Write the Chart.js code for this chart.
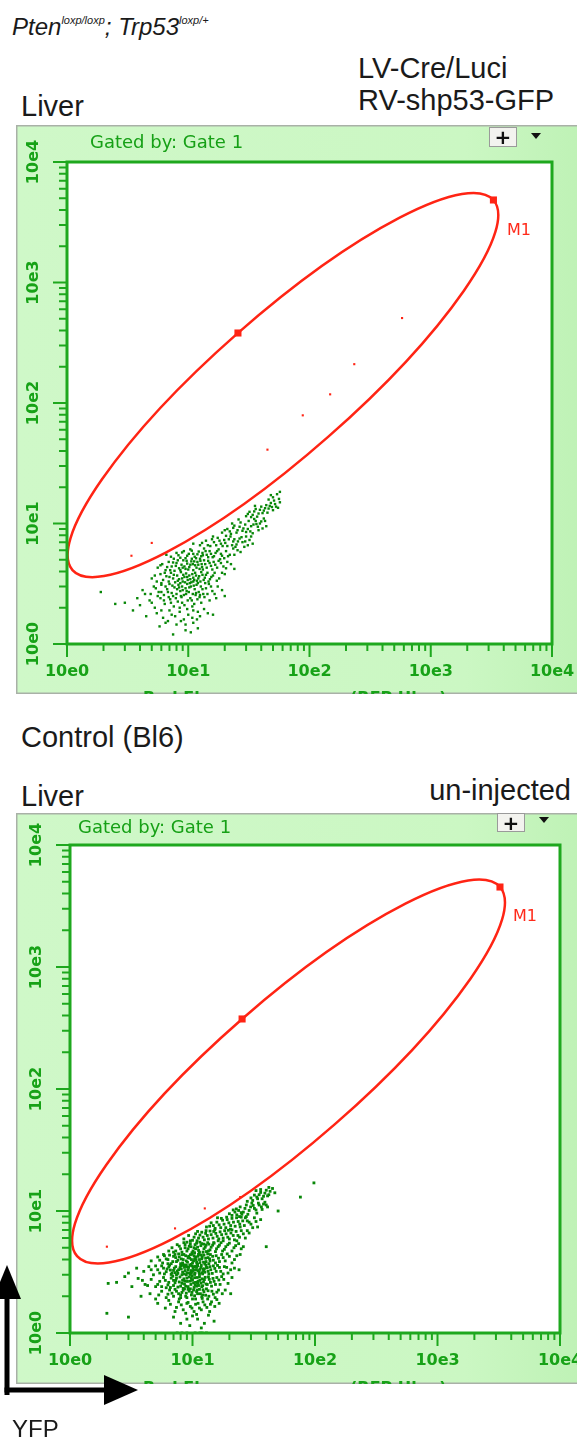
<!DOCTYPE html>
<html>
<head>
<meta charset="utf-8">
<script src="https://cdn.jsdelivr.net/npm/chart.js@4.4.1/dist/chart.umd.min.js"></script>
<style>
  body { margin: 0; width: 577px; height: 1441px; position: relative; overflow: hidden; background: #fff; }
  .txt { position: absolute; color: #1a1a1a; font-family: "Liberation Sans", Arial, sans-serif; font-size: 29px; line-height: 1; white-space: nowrap; }
  .gated { position: absolute; color: #16a016; font-family: "DejaVu Sans", sans-serif; font-size: 18px; line-height: 1; white-space: nowrap; }
  .gate-name { position: absolute; color: #ff2a1a; font-family: "DejaVu Sans", sans-serif; font-size: 16px; line-height: 1; }
  .plus { position: absolute; width: 28px; height: 20px; background: #f3f3ef; border: 1px solid #9a9a9a; box-sizing: border-box;
          font: bold 20px "DejaVu Sans", sans-serif; line-height: 18px; text-align: center; color: #111; overflow: hidden; }
  .drop { position: absolute; width: 0; height: 0; border-left: 5px solid transparent; border-right: 5px solid transparent; border-top: 6px solid #111; }
  canvas { position: absolute; }
  sup { font-size: 11px; vertical-align: 11px; line-height: 0; }
</style>
</head>
<body>

<div class="txt" style="left:12px; top:15px; font-size:24px; font-style:italic;">Pten<sup>loxp/loxp</sup>; Trp53<sup>loxp/+</sup></div>
<div class="txt" style="left:358px; top:54px;">LV-Cre/Luci</div>
<div class="txt" style="left:358px; top:86px;">RV-shp53-GFP</div>
<div class="txt" style="left:21px; top:92px;">Liver</div>

<canvas id="liverChart" width="561" height="569" style="left:16px; top:125px;"></canvas>
<div class="gated" style="left:90px; top:133px;">Gated by: Gate 1</div>
<div class="plus" style="left:489px; top:127px;">+</div>
<div class="drop" style="left:531px; top:133px;"></div>
<div class="gate-name" style="left:507px; top:222px;">M1</div>

<div class="txt" style="left:21px; top:723px;">Control (Bl6)</div>
<div class="txt" style="left:21px; top:782px;">Liver</div>
<div class="txt" style="right:6px; top:776px;">un-injected</div>

<canvas id="controlChart" width="561" height="571" style="left:16px; top:813px;"></canvas>
<div class="gated" style="left:78px; top:818px;">Gated by: Gate 1</div>
<div class="plus" style="left:497px; top:813px; height:19px;">+</div>
<div class="drop" style="left:539px; top:817px;"></div>
<div class="gate-name" style="left:513px; top:908px;">M1</div>

<svg style="position:absolute; left:0; top:1255px;" width="150" height="160">
  <rect x="4.5" y="38" width="5" height="102" fill="#000"/>
  <polygon points="7,10 -7,44 21,44" fill="#000"/>
  <rect x="4.5" y="132.5" width="104" height="5" fill="#000"/>
  <polygon points="138,135 104,120 104,150" fill="#000"/>
</svg>
<div class="txt" style="left:12px; top:1417px; font-size:24px;">YFP</div>

<script>
// axis ticks (both axes, both plots)
const tickValues = [1, 10, 100, 1000, 10000];
const tickLabels = ["10e0", "10e1", "10e2", "10e3", "10e4"];
const minorSteps = [2, 3, 4, 5, 6, 7, 8, 9];

// Pten/Trp53 liver: elliptical gate M1 (centre + major/minor handles), gated events, all events
const liverGateCenter = [60.4, 141];
const liverHandles = [[3288, 4840], [25.7, 381]];
const liverGatedEvents = [[580, 507], [234, 210], [148, 118], [88, 79], [45, 41], [5.0, 6.9], [3.4, 5.4]];
const liverEvents = [
    [7.5, 1.2], [9.5, 1.3], [8, 1.45], [12, 1.35], [6.5, 1.5], [10.5, 1.25], [11, 1.5], [5.8, 1.4],
    [4.5, 1.7], [5.5, 1.8], [6.2, 1.65], [7, 1.9], [7.8, 1.7], [8.5, 1.85], [9.2, 1.6], [10, 1.75],
    [11, 1.9], [12.5, 1.7], [13.5, 1.95], [6.8, 1.55], [9.8, 1.95], [14.5, 1.8], [3.5, 1.9], [16, 1.75], [11.8, 1.6],
    [9.5, 1.45], [8.7, 1.55], [10.8, 1.65], [7.3, 1.75], [12, 1.85], [6, 1.9], [1.9, 2.7], [2.5, 2.15],
    [3, 2.2], [4, 2.1], [4.8, 2.3], [5.3, 2.0], [5.9, 2.4], [6.4, 2.15], [7.1, 2.35], [7.6, 2.05],
    [8.2, 2.25], [8.8, 2.45], [9.3, 2.1], [9.9, 2.3], [10.4, 2.4], [11.2, 2.15], [11.9, 2.35], [12.8, 2.2],
    [13.6, 2.45], [15, 2.3], [17, 2.4], [6.9, 2.45], [8.5, 2.0], [10.8, 2.05], [5.6, 2.5], [20, 2.5],
    [5, 2.2], [4.4, 2.6], [3.8, 2.4], [6.3, 2.3], [7.2, 2.2], [7.9, 2.4], [8.9, 2.2], [10.7, 2.3],
    [4.2, 2.8], [4.9, 2.6], [5.2, 3.0], [5.7, 2.7], [6.0, 3.1], [6.3, 2.55], [6.7, 2.85], [7.0, 3.15],
    [7.3, 2.65], [7.7, 2.95], [8.0, 2.6], [8.3, 3.1], [8.6, 2.75], [8.9, 3.0], [9.2, 2.55], [9.5, 2.9],
    [9.8, 3.15], [10.1, 2.7], [10.5, 3.0], [10.9, 2.6], [11.3, 2.85], [11.7, 3.1], [12.2, 2.7], [12.7, 3.0],
    [13.3, 2.6], [14, 2.9], [14.8, 3.15], [15.8, 2.75], [17.5, 3.0], [19, 2.8], [6.5, 3.0], [7.5, 2.5],
    [9.0, 2.8], [10.3, 3.2], [11.5, 2.55], [8.1, 2.85], [6.8, 2.7], [8.4, 2.95], [9.6, 2.6], [10.2, 2.95],
    [11.6, 2.65], [12.4, 2.45], [13.1, 2.85], [14.4, 2.6], [15.4, 3.0], [16.5, 2.6], [5.4, 2.9], [6.0, 2.7],
    [7.4, 3.05], [8.7, 2.5], [9.7, 2.75], [11.1, 3.05], [12.5, 2.55], [13.8, 3.2],
    [5.0, 3.5], [5.5, 3.3], [5.9, 3.8], [6.2, 3.4], [6.6, 3.65], [6.9, 3.3], [7.2, 3.9], [7.5, 3.5],
    [7.8, 3.25], [8.1, 3.7], [8.4, 3.45], [8.7, 3.95], [9.0, 3.3], [9.3, 3.6], [9.6, 3.85], [9.9, 3.4],
    [10.2, 3.7], [10.6, 3.25], [11.0, 3.55], [11.4, 3.9], [11.8, 3.35], [12.3, 3.65], [12.8, 3.95], [13.4, 3.4],
    [14.0, 3.75], [14.7, 3.3], [15.5, 3.6], [16.5, 3.9], [18, 3.5], [20, 3.8], [7.0, 3.6], [8.9, 3.5],
    [10.8, 3.8], [12.0, 3.2], [9.4, 3.25], [11.2, 3.4], [5.3, 3.7], [6.0, 3.2], [6.4, 3.9], [7.6, 3.75],
    [8.2, 3.35], [8.6, 3.2], [9.1, 3.75], [9.8, 3.6], [10.4, 3.45], [11.0, 3.3], [11.6, 3.7], [12.1, 3.5],
    [12.6, 3.3], [13.1, 3.75], [13.7, 3.55], [14.4, 3.9], [15.1, 3.45], [16.0, 3.7], [17.2, 3.35], [19, 3.9],
    [5.6, 4.3], [6.1, 4.6], [6.5, 4.1], [6.9, 4.8], [7.3, 4.4], [7.7, 4.05], [8.0, 4.7], [8.4, 4.25],
    [8.8, 4.55], [9.1, 4.95], [9.5, 4.2], [9.8, 4.65], [10.2, 4.35], [10.6, 4.85], [11.0, 4.1], [11.4, 4.5],
    [11.9, 4.8], [12.4, 4.2], [12.9, 4.6], [13.5, 4.95], [14.2, 4.3], [15.0, 4.7], [15.8, 4.15], [16.7, 4.55],
    [17.8, 4.9], [19.5, 4.4], [21, 4.8], [9.3, 4.4], [10.9, 4.6], [13.0, 4.35], [7.9, 4.45], [24, 4.2],
    [5.9, 4.5], [6.7, 4.35], [7.1, 4.1], [7.5, 4.75], [8.2, 4.95], [8.6, 4.1], [9.0, 4.3], [9.7, 4.9],
    [10.0, 4.15], [10.4, 4.55], [11.2, 4.85], [11.7, 4.3], [12.1, 4.55], [12.6, 4.9], [13.2, 4.15], [13.8, 4.6],
    [14.6, 4.9], [15.4, 4.45], [16.2, 4.8], [17.3, 4.3], [18.6, 4.7], [20.5, 4.25], [22.5, 4.6],
    [7.2, 5.3], [8.0, 5.7], [8.6, 5.2], [9.2, 5.9], [9.8, 5.4], [10.4, 6.1], [11.0, 5.6], [11.6, 5.15],
    [12.2, 5.85], [12.8, 5.35], [13.5, 6.2], [14.2, 5.5], [15.0, 5.9], [15.9, 5.25], [16.8, 5.7], [17.8, 6.1],
    [19, 5.4], [20.5, 5.9], [22, 5.5], [23.5, 6.2], [10.7, 5.1], [13.1, 5.7], [18.3, 5.05], [27, 5.8], [6.6, 5.5],
    [7.6, 5.1], [8.3, 5.45], [8.9, 5.75], [9.5, 5.15], [10.1, 5.6], [10.7, 5.95], [11.3, 5.3], [11.9, 5.55],
    [12.5, 5.1], [13.2, 5.45], [13.9, 5.9], [14.6, 5.25], [15.4, 5.6], [16.3, 5.35], [17.3, 5.9], [18.6, 5.6],
    [19.8, 5.15], [21.3, 5.35], [24, 5.5], [25.5, 6.0],
    [12.5, 6.6], [14, 7.2], [15.2, 6.5], [16.3, 7.0], [17.5, 7.6], [18.6, 6.8], [19.8, 7.3], [21, 6.5],
    [22.3, 7.8], [23.5, 7.1], [25, 6.7], [26.5, 7.5], [28, 7.0], [30, 7.8], [32, 7.3], [20.5, 7.9],
    [16, 7.8], [24.5, 6.4], [34, 6.8], [11, 6.8], [29, 6.4], [13, 6.9], [14.5, 6.6], [15.7, 7.4],
    [17, 6.6], [18.1, 7.2], [19.2, 6.5], [20.2, 6.9], [21.6, 7.4], [23, 6.6], [24, 7.4], [25.7, 7.1],
    [27.5, 7.7], [29.5, 7.1], [31, 6.6], [33, 7.8],
    [19, 8.4], [21, 9.0], [22.5, 8.2], [24, 9.6], [25.5, 8.8], [27, 10.2], [28.5, 9.1], [30, 8.5],
    [31.5, 10.5], [33, 9.5], [35, 10.9], [36.5, 9.9], [38, 8.8], [40, 10.4], [42, 11], [26, 10.8],
    [23, 10], [44, 9.5], [34, 8.3], [20, 8.8], [22, 8.6], [23.5, 9.2], [25, 8.4], [26.5, 9.4],
    [28, 8.7], [29.5, 9.8], [31, 9.0], [32.5, 8.6], [34.5, 9.8], [36, 10.5], [37.5, 9.4], [39, 10],
    [41, 9.1], [43, 10.5],
    [30, 11.5], [32, 12.5], [34, 11.8], [36, 13.2], [38, 12.1], [40, 13.8], [42, 12.8], [44, 14.2],
    [46, 13.3], [48, 14.8], [50, 12.9], [52, 14.5], [55, 13.5], [57, 15], [35.5, 14], [31, 12],
    [33, 11.3], [35, 12.6], [37, 11.4], [39, 13], [41, 12.2], [43, 13.4], [45, 12.3], [47, 14],
    [49, 13.7], [51, 15.5], [53, 13.8],
    [46, 15.8], [50, 16.5], [54, 17.5], [56, 16], [57, 18.3], [48, 17.2]
];

// Bl6 control liver (un-injected)
const controlGateCenter = [60.8, 139];
const controlHandles = [[3236, 4525], [25.4, 375]];
const controlGatedEvents = [[2.0, 5.1], [7.2, 7.2], [12.6, 10.5], [24.5, 13]];
const controlEvents = [
    [7.5, 1], [9, 1], [10.5, 1], [11.5, 1], [13, 1], [8.2, 1], [12, 1],
    [8, 1.2], [9.5, 1.15], [11, 1.3], [12.5, 1.2], [15, 1.25], [10, 1.38], [7, 1.35], [13.5, 1.4],
    [2.0, 1.45], [3.0, 1.35], [9, 1.3], [11.8, 1.1],
    [6, 1.6], [7.2, 1.5], [8.1, 1.7], [8.8, 1.45], [9.6, 1.65], [10.3, 1.5], [11.1, 1.75], [11.8, 1.55],
    [12.6, 1.7], [13.8, 1.5], [15.2, 1.65], [16.5, 1.75], [5.2, 1.75], [7.7, 1.8], [10.8, 1.42], [9.2, 1.78],
    [6.6, 1.72], [14.3, 1.8], [7.4, 1.62], [8.4, 1.55], [9.0, 1.75], [9.9, 1.6], [10.6, 1.72], [11.4, 1.6],
    [12.2, 1.8], [13.1, 1.62], [14.0, 1.72], [8.0, 1.95], [10.0, 1.9], [12.0, 1.92], [6.4, 1.85], [13.3, 1.9], [15.8, 1.88],
    [4.5, 2.1], [5, 1.9], [5.6, 2.2], [6.1, 1.95], [6.5, 2.25], [7, 2.0], [7.4, 2.2], [7.8, 1.9],
    [8.2, 2.15], [8.6, 2.3], [9, 1.95], [9.4, 2.2], [9.8, 2.05], [10.2, 2.25], [10.6, 1.9], [11, 2.1],
    [11.4, 2.28], [11.9, 1.98], [12.4, 2.18], [13, 2.3], [13.6, 2.0], [14.4, 2.2], [15.3, 1.95], [16.3, 2.25],
    [17.5, 2.1], [20.5, 2.1], [3.8, 2.0], [8.0, 2.05], [9.6, 2.3], [10.9, 2.25], [12.1, 2.05], [6.8, 2.12], [8.9, 2.12],
    [6.3, 2.08], [7.2, 2.28], [7.7, 2.1], [8.4, 2.24], [8.8, 2.0], [9.2, 2.28], [9.9, 2.15], [10.4, 2.02],
    [10.8, 2.18], [11.6, 2.1], [12.2, 2.26], [12.8, 2.04], [13.4, 2.22], [14.8, 2.08], [15.8, 2.16], [5.3, 2.05], [18.5, 2.25],
    [2.4, 2.6], [2.05, 2.55], [3.2, 2.4], [3.6, 2.8], [4.1, 2.5], [4.6, 2.75], [5.0, 2.4], [5.4, 2.65],
    [5.8, 2.85], [6.1, 2.35], [6.4, 2.6], [6.7, 2.82], [7.0, 2.45], [7.3, 2.7], [7.6, 2.38], [7.9, 2.88],
    [8.2, 2.55], [8.5, 2.78], [8.8, 2.42], [9.1, 2.65], [9.4, 2.88], [9.7, 2.5], [10.0, 2.72], [10.3, 2.36],
    [10.6, 2.6], [10.9, 2.85], [11.2, 2.45], [11.5, 2.7], [11.9, 2.4], [12.3, 2.62], [12.7, 2.86], [13.2, 2.5],
    [13.7, 2.75], [14.3, 2.42], [15, 2.65], [15.8, 2.85], [16.8, 2.5], [18, 2.75], [19.5, 2.55], [21, 2.85],
    [20.5, 3.3], [8.4, 2.32], [9.9, 2.95], [11.0, 2.55], [12.0, 2.78], [7.2, 2.58], [8.7, 2.66], [10.5, 2.48], [6.9, 2.92],
    [5.2, 2.5], [5.6, 2.4], [6.0, 2.7], [6.3, 2.48], [6.6, 2.36], [7.0, 2.7], [7.4, 2.82], [7.8, 2.62],
    [8.0, 2.42], [8.3, 2.7], [8.6, 2.52], [9.0, 2.82], [9.2, 2.4], [9.6, 2.66], [9.8, 2.8], [10.2, 2.58],
    [10.4, 2.84], [10.8, 2.42], [11.1, 2.66], [11.4, 2.88], [11.7, 2.56], [12.1, 2.44], [12.5, 2.74], [12.9, 2.52],
    [13.5, 2.88], [14.0, 2.6], [14.7, 2.8], [15.4, 2.5], [16.4, 2.72], [17.3, 2.9], [4.3, 2.45], [3.9, 2.7], [2.8, 2.9],
    [3.0, 3.1], [3.5, 3.4], [4.0, 3.2], [4.4, 3.5], [4.8, 3.0], [5.2, 3.3], [5.6, 3.55], [5.9, 3.05],
    [6.2, 3.35], [6.5, 3.6], [6.8, 3.1], [7.1, 3.4], [7.4, 3.0], [7.7, 3.3], [8.0, 3.55], [8.3, 3.15],
    [8.6, 3.45], [8.9, 3.0], [9.2, 3.3], [9.5, 3.58], [9.8, 3.12], [10.1, 3.42], [10.4, 3.02], [10.7, 3.3],
    [11.0, 3.55], [11.3, 3.15], [11.7, 3.45], [12.1, 3.05], [12.5, 3.35], [12.9, 3.6], [13.4, 3.2], [13.9, 3.5],
    [14.5, 3.08], [15.2, 3.38], [16, 3.58], [17, 3.2], [18.2, 3.5], [19.5, 3.1], [22, 3.4], [8.1, 3.35],
    [9.0, 3.48], [9.7, 3.25], [10.6, 3.52], [11.5, 3.32], [7.5, 3.22], [12.3, 3.22], [13.2, 3.42], [6.6, 3.28],
    [8.5, 3.05], [10.0, 3.2], [4.6, 3.3], [5.0, 3.55], [5.4, 3.1], [5.8, 3.4], [6.1, 3.18], [6.4, 3.48],
    [6.7, 3.02], [7.0, 3.26], [7.3, 3.5], [7.6, 3.08], [7.9, 3.42], [8.2, 3.0], [8.4, 3.58], [8.7, 3.25],
    [9.0, 3.12], [9.3, 3.45], [9.6, 3.02], [9.9, 3.55], [10.2, 3.28], [10.5, 3.1], [10.8, 3.45], [11.1, 3.25],
    [11.4, 3.02], [11.8, 3.58], [12.2, 3.35], [12.6, 3.15], [13.0, 3.45], [13.6, 3.05], [14.1, 3.3], [14.8, 3.55],
    [15.6, 3.2], [16.6, 3.45], [17.8, 3.05], [19, 3.45], [24, 3.3], [7.2, 3.12], [8.9, 3.58], [10.3, 3.5],
    [11.9, 3.12], [9.4, 3.1],
    [4.6, 3.9], [5.2, 4.2], [5.7, 3.75], [6.1, 4.05], [6.5, 4.35], [6.9, 3.85], [7.3, 4.15], [7.7, 4.45],
    [8.0, 3.7], [8.4, 4.0], [8.8, 4.3], [9.1, 3.8], [9.5, 4.1], [9.9, 4.42], [10.2, 3.9], [10.6, 4.2],
    [11.0, 3.65], [11.4, 4.0], [11.8, 4.35], [12.3, 3.8], [12.8, 4.1], [13.3, 4.45], [13.9, 3.9], [14.6, 4.25],
    [15.4, 3.75], [16.3, 4.1], [17.3, 4.4], [18.5, 3.9], [20, 4.25], [22, 4.0], [24.5, 4.4], [9.3, 4.25],
    [10.8, 3.8], [12.0, 4.18], [8.6, 3.62], [7.6, 3.95], [11.2, 4.4], [13.6, 3.7], [6.3, 3.7], [9.7, 3.65],
    [10.4, 4.05], [8.2, 4.38], [5.4, 3.95], [5.9, 4.3], [6.3, 4.0], [6.7, 3.7], [7.0, 4.25], [7.4, 3.85],
    [7.8, 4.2], [8.1, 4.05], [8.5, 4.4], [8.9, 3.9], [9.2, 4.15], [9.6, 4.38], [10.0, 3.75], [10.3, 4.3],
    [10.7, 4.0], [11.1, 4.25], [11.5, 3.78], [11.9, 4.05], [12.4, 4.35], [12.9, 3.85], [13.4, 4.15], [14.0, 4.4],
    [14.8, 3.95], [15.6, 4.3], [16.6, 3.85], [17.8, 4.15], [19.2, 4.45], [21, 3.75], [23, 4.3], [8.3, 3.75],
    [9.8, 4.0], [11.3, 4.45], [12.6, 3.68], [13.8, 4.05], [7.2, 4.4], [10.9, 3.68],
    [5.8, 4.4], [6.4, 4.7], [7.0, 4.6], [7.5, 5.3], [8.0, 4.9], [8.5, 5.5], [9.0, 4.7], [9.4, 5.15],
    [9.9, 4.55], [10.3, 5.0], [10.8, 5.45], [11.2, 4.75], [11.7, 5.2], [12.2, 4.6], [12.7, 5.05], [13.3, 5.5],
    [13.9, 4.8], [14.6, 5.25], [15.4, 4.65], [16.2, 5.1], [17.1, 5.5], [18.2, 4.85], [19.4, 5.3], [21, 4.7],
    [22.5, 5.2], [25, 4.9], [9.6, 5.4], [11.5, 5.55], [13.0, 4.65], [15, 5.45], [40, 5.1], [8.7, 5.0],
    [10.6, 4.9], [12.4, 5.35], [6.8, 5.0], [7.3, 4.7], [7.8, 5.15], [8.2, 4.6], [8.7, 5.3], [9.2, 4.9],
    [9.7, 5.1], [10.1, 4.7], [10.5, 5.3], [11.0, 5.05], [11.4, 4.6], [11.9, 5.4], [12.4, 4.9], [12.9, 5.25],
    [13.5, 4.7], [14.2, 5.05], [14.9, 5.5], [15.7, 4.9], [16.6, 5.25], [17.6, 4.7], [18.7, 5.1], [20, 5.45],
    [21.8, 5.0], [23.8, 5.4], [26, 5.1], [9.0, 5.55], [10.4, 4.55], [13.6, 5.35],
    [8.5, 5.9], [9.3, 6.3], [10.0, 5.75], [10.6, 6.5], [11.2, 6.0], [11.9, 6.7], [12.5, 5.8], [13.2, 6.3],
    [13.9, 6.85], [14.7, 6.0], [15.5, 6.55], [16.4, 5.9], [17.3, 6.4], [18.3, 6.9], [19.4, 6.1], [20.6, 6.6],
    [22, 5.8], [23.5, 6.3], [25, 6.9], [27, 6.0], [29, 6.6], [12.9, 6.9], [15.2, 7.0], [21, 7.0],
    [11.0, 6.8], [17.8, 5.7], [9.6, 5.7], [10.3, 6.1], [10.9, 5.7], [11.5, 6.35], [12.2, 6.1], [12.8, 6.55],
    [13.5, 5.9], [14.2, 6.4], [14.9, 6.8], [15.9, 6.2], [16.8, 6.75], [17.8, 6.0], [18.8, 6.5], [20, 5.9],
    [21.5, 6.3], [22.7, 6.8], [24.2, 6.1], [26, 6.5], [28, 6.9], [19.6, 6.95], [16.2, 5.7], [23, 5.7],
    [13, 7.4], [14.2, 8.0], [15.3, 7.2], [16.5, 7.7], [17.6, 8.4], [18.7, 7.3], [19.8, 8.0], [21, 8.7],
    [22.3, 7.5], [23.6, 8.2], [25, 8.9], [26.5, 7.6], [28, 8.3], [30, 7.8], [32, 8.8], [34, 7.4],
    [16, 8.8], [20.4, 7.1], [24.3, 7.8], [19, 8.9], [27.5, 9], [36, 8.5], [14.8, 7.6], [15.8, 8.1],
    [17, 7.3], [18.1, 7.8], [19.2, 8.5], [20.5, 7.6], [21.6, 8.1], [22.9, 8.8], [24.5, 7.4], [25.7, 8.3],
    [27, 8.8], [29, 8.1], [31, 7.3], [33, 8.2], [17.2, 8.7], [13.8, 7.5],
    [20, 9.5], [21.5, 10.2], [23, 9.3], [24.5, 10.8], [26, 9.8], [27.5, 11.2], [29, 10.1], [30.5, 11.6],
    [32, 10.5], [33.5, 9.6], [35, 11.2], [37, 10.3], [39, 11.8], [41, 10.8], [28, 12], [25.3, 9.4],
    [22.8, 10.4], [50, 10], [21, 9.2], [22.2, 9.8], [23.8, 10.1], [25, 9.7], [26.8, 10.5], [28.3, 9.4],
    [29.8, 10.8], [31.3, 11.1], [33, 10.2], [34.5, 11.6], [36.5, 10.8], [38, 11.4], [40, 11.2], [24.2, 9.0],
    [30, 12.8], [32, 13.5], [34, 12.6], [36, 14.2], [38, 13.2], [40, 14.8], [42, 13.6], [45, 15.3],
    [47, 14.1], [33, 14.7], [76, 13], [98, 17], [31, 12.2], [33.5, 13], [35, 13.6], [37, 12.6],
    [39, 14], [41, 13.3], [43, 14.5], [36, 15], [42, 15.6]
];

const RED = "#ff2414";
const DOT_GREEN = "#088708";
const FRAME_GREEN = "#1ea81e";
const LABEL_GREEN = "#17a217";

const toXY = arr => arr.map(p => ({ x: p[0], y: p[1] }));

const flowFrame = {
    id: "flowFrame",
    beforeDraw(chart) {
        const { ctx, width, height, chartArea: a } = chart;
        ctx.save();
        const g = ctx.createLinearGradient(0, 0, width, 0);
        g.addColorStop(0, "#cff8c8");
        g.addColorStop(0.8, "#cbf7c3");
        g.addColorStop(1, "#bff2b6");
        ctx.fillStyle = g;
        ctx.fillRect(0, 0, width, height);
        ctx.strokeStyle = "#a9b1a7";
        ctx.lineWidth = 1.5;
        ctx.beginPath();
        ctx.moveTo(width, 0.75);
        ctx.lineTo(0.75, 0.75);
        ctx.lineTo(0.75, height - 0.75);
        ctx.lineTo(width, height - 0.75);
        ctx.stroke();
        ctx.fillStyle = "#fff";
        ctx.fillRect(a.left, a.top, a.right - a.left, a.bottom - a.top);
        ctx.restore();
    },
    afterDatasetsDraw(chart, args, opts) {
        const { ctx, chartArea: a, scales } = chart;
        const x = scales.x, y = scales.y;
        ctx.save();

        // elliptical gate: centre, end of major axis, end of minor axis
        const px = p => ({ x: x.getPixelForValue(p[0]), y: y.getPixelForValue(p[1]) });
        const c = px(opts.center), m = px(opts.handles[0]), n = px(opts.handles[1]);
        ctx.save();
        ctx.beginPath();
        ctx.rect(a.left, a.top, a.right - a.left, a.bottom - a.top);
        ctx.clip();
        ctx.beginPath();
        ctx.ellipse(c.x, c.y, Math.hypot(m.x - c.x, m.y - c.y), Math.hypot(n.x - c.x, n.y - c.y),
            Math.atan2(m.y - c.y, m.x - c.x), 0, 2 * Math.PI);
        ctx.strokeStyle = RED;
        ctx.lineWidth = 2.5;
        ctx.stroke();
        ctx.restore();

        ctx.strokeStyle = FRAME_GREEN;
        ctx.lineWidth = 3;
        ctx.strokeRect(a.left, a.top, a.right - a.left, a.bottom - a.top);

        ctx.lineWidth = 2;
        ctx.beginPath();
        tickValues.forEach((v, i) => {
            const tx = x.getPixelForValue(v), ty = y.getPixelForValue(v);
            ctx.moveTo(tx, a.bottom); ctx.lineTo(tx, a.bottom + 13);
            ctx.moveTo(a.left, ty); ctx.lineTo(a.left - 14, ty);
            if (i < tickValues.length - 1) {
                minorSteps.forEach(s => {
                    const mx = x.getPixelForValue(v * s), my = y.getPixelForValue(v * s);
                    ctx.moveTo(mx, a.bottom); ctx.lineTo(mx, a.bottom + 7);
                    ctx.moveTo(a.left, my); ctx.lineTo(a.left - 8, my);
                });
            }
        });
        ctx.stroke();

        ctx.fillStyle = LABEL_GREEN;
        ctx.font = "bold 16px 'DejaVu Sans'";
        ctx.textAlign = "center";
        ctx.textBaseline = "middle";
        tickValues.forEach((v, i) => {
            ctx.fillText(tickLabels[i], x.getPixelForValue(v), a.bottom + 28);
            ctx.save();
            ctx.translate(a.left - 33, y.getPixelForValue(v));
            ctx.rotate(-Math.PI / 2);
            ctx.fillText(tickLabels[i], 0, 0);
            ctx.restore();
        });

        // axis title, cut off by the window edge like in the original export
        ctx.textAlign = "left";
        ctx.textBaseline = "alphabetic";
        ctx.fillText("Red Fl", 127, chart.height + 9);
        ctx.fillText("(RFP Hlog)", 334, chart.height + 9);
        ctx.restore();
    }
};

function makeFlowPlot(canvasId, gateCenter, handles, gatedEvents, events, dotRadius, padding) {
    return new Chart(document.getElementById(canvasId), {
        type: "scatter",
        data: {
            datasets: [
                {
                    data: toXY(handles),
                    pointStyle: "rect",
                    pointRadius: 5,
                    backgroundColor: RED,
                    borderWidth: 0
                },
                {
                    data: toXY(gatedEvents),
                    pointStyle: "rect",
                    pointRadius: 1.5,
                    backgroundColor: RED,
                    borderWidth: 0
                },
                {
                    data: toXY(events),
                    pointStyle: "rect",
                    pointRadius: dotRadius,
                    backgroundColor: DOT_GREEN,
                    borderWidth: 0
                }
            ]
        },
        options: {
            responsive: false,
            animation: false,
            events: [],
            layout: { padding: padding },
            plugins: {
                legend: { display: false },
                tooltip: { enabled: false },
                flowFrame: { center: gateCenter, handles: handles }
            },
            scales: {
                x: { type: "logarithmic", min: 1, max: 10000, display: false },
                y: { type: "logarithmic", min: 1, max: 10000, display: false }
            }
        },
        plugins: [flowFrame]
    });
}

makeFlowPlot("liverChart", liverGateCenter, liverHandles, liverGatedEvents, liverEvents, 1.7,
    { left: 51, top: 37, right: 25, bottom: 50 });
makeFlowPlot("controlChart", controlGateCenter, controlHandles, controlGatedEvents, controlEvents, 2.0,
    { left: 54, top: 32, right: 17, bottom: 51 });
</script>
</body>
</html>
